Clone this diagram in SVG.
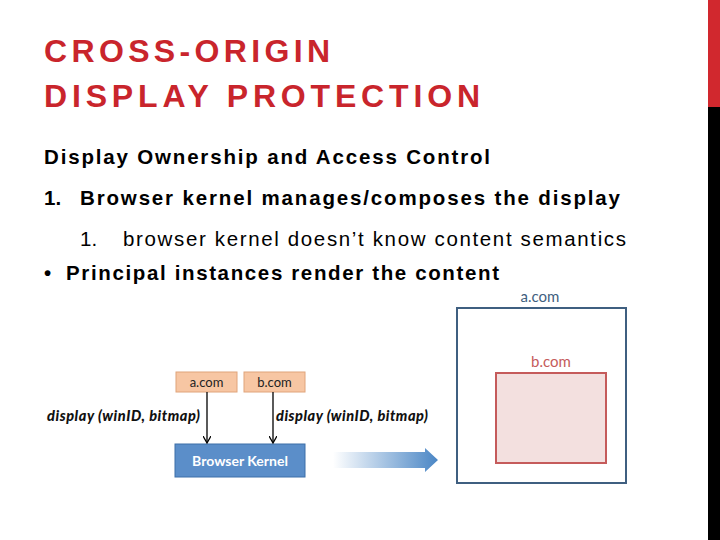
<svg xmlns="http://www.w3.org/2000/svg" width="720" height="540" viewBox="0 0 720 540">
<style>
.t{font-family:"Liberation Sans",Arial,sans-serif;fill:#000}
.g{font-family:"Lato","Open Sans",sans-serif}
.lbl{font-family:"Lato","Open Sans",sans-serif;font-style:italic;font-weight:900;font-size:14.5px;fill:#111}
.c{stroke:#000;stroke-width:1.3;fill:none;marker-end:url(#ah)}
</style>
<defs>
<marker id="ah" markerWidth="8" markerHeight="8" refX="6" refY="4" orient="auto" markerUnits="userSpaceOnUse"><path d="M0,0 L7,4 L0,8" fill="none" stroke="#000" stroke-width="1.3"/></marker>
<linearGradient id="gr" x1="0" x2="1"><stop offset="0" stop-color="#4a86c5" stop-opacity="0"/><stop offset="1" stop-color="#4a86c5"/></linearGradient>
</defs>
<rect width="720" height="540" fill="#fff"/>
<rect x="708" y="0" width="12" height="107" fill="#d1282e"/>
<rect x="708" y="107" width="12" height="433" fill="#000"/>
<g id="title" font-family="'Liberation Sans',Arial,sans-serif" font-size="32" font-weight="bold" fill="#c9252c">
<text x="44" y="62" textLength="286" lengthAdjust="spacing">CROSS-ORIGIN</text>
<text x="44" y="107" textLength="436" lengthAdjust="spacing">DISPLAY PROTECTION</text>
</g>
<g id="body" font-size="20.5">
<text class="t" x="44" y="164" font-weight="bold" textLength="446" lengthAdjust="spacing">Display Ownership and Access Control</text>
<text class="t" x="44" y="205" font-weight="bold">1.</text>
<text class="t" x="80" y="205" font-weight="bold" textLength="540" lengthAdjust="spacing">Browser kernel manages/composes the display</text>
<text class="t" x="80" y="246" fill="#c9252c">1.</text>
<text class="t" x="123" y="246" textLength="503" lengthAdjust="spacing">browser kernel doesn’t know content semantics</text>
<text class="t" x="44" y="280" font-weight="bold">•</text>
<text class="t" x="66" y="280" font-weight="bold" textLength="433" lengthAdjust="spacing">Principal instances render the content</text>
</g>
<g id="acom-box"><rect x="176" y="372" width="61" height="20" fill="#f7c6a3" stroke="#e0a47b"/><text class="g" x="206.5" y="387" font-size="13" text-anchor="middle" fill="#222">a.com</text></g>
<g id="bcom-box"><rect x="244" y="372" width="61" height="20" fill="#f7c6a3" stroke="#e0a47b"/><text class="g" x="274.5" y="387" font-size="13" text-anchor="middle" fill="#222">b.com</text></g>
<g id="kernel"><rect x="175" y="444" width="130" height="33" fill="#5b8ec9" stroke="#3d6fa8"/><text class="g" x="240" y="466" font-size="14" font-weight="bold" text-anchor="middle" fill="#fff">Browser Kernel</text></g>
<g id="labels"><text class="lbl" x="47" y="421" textLength="153" lengthAdjust="spacing">display (winID, bitmap)</text><text class="lbl" x="276" y="421" textLength="152" lengthAdjust="spacing">display (winID, bitmap)</text></g>
<g id="connectors">
<path class="c" d="M207,392 V442"/>
<path class="c" d="M273,392 V442"/>
<polygon points="333,452 425,452 425,448 438,460 425,472 425,468 333,468" fill="url(#gr)"/>
</g>
<g id="outer"><rect x="457" y="308" width="169" height="175" fill="#fff" stroke="#3f5f80" stroke-width="2"/><text class="g" x="540" y="302" font-size="15" text-anchor="middle" fill="#3f5f80">a.com</text></g>
<g id="inner"><rect x="496" y="373" width="110" height="90" fill="#f3e0df" stroke="#c55b5b" stroke-width="2"/><text class="g" x="551" y="367" font-size="15" text-anchor="middle" fill="#c55b5b">b.com</text></g>
</svg>
